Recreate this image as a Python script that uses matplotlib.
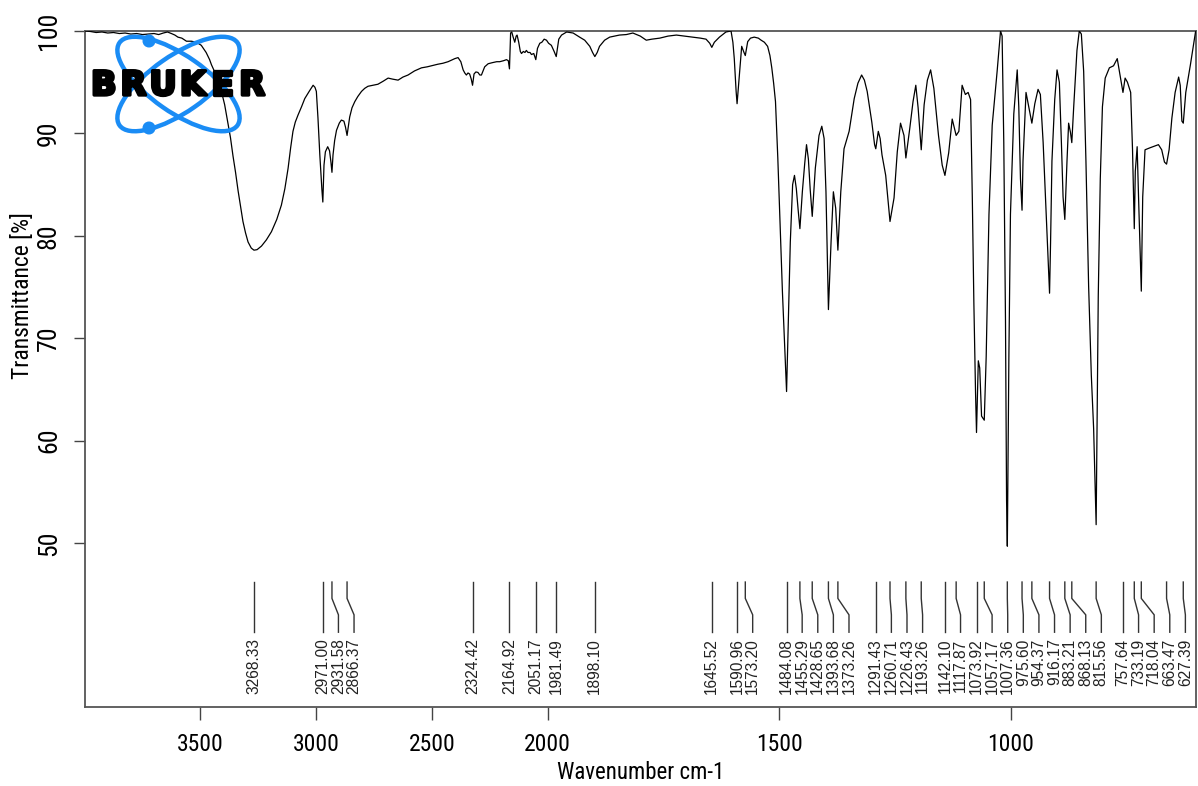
import numpy as np
import matplotlib
matplotlib.use("Agg")
import matplotlib.pyplot as plt
from matplotlib.patches import Ellipse, Circle
import matplotlib.patheffects as pe

# ---- spectrum (wavenumber in cm-1, transmittance in %) ----
wavenumber = [
    4000, 3975, 3950, 3925, 3900, 3875, 3850, 3825, 3800, 3775, 3750, 3725,
    3700, 3680, 3660, 3642, 3625, 3610, 3597, 3580, 3560, 3539, 3517, 3496,
    3475, 3460, 3452, 3438, 3425, 3409, 3395, 3381, 3370, 3359, 3348, 3337,
    3326, 3316, 3305, 3294, 3280, 3268.33, 3255, 3236, 3215, 3193, 3170, 3150,
    3135, 3121, 3110, 3100, 3090, 3078, 3063, 3049, 3030, 3013, 3005, 2999,
    2992, 2984, 2975, 2971.00, 2966, 2960, 2950, 2942, 2936, 2931.58, 2927,
    2920, 2912, 2900, 2891, 2880, 2873, 2866.37, 2860, 2855, 2845, 2833, 2820,
    2804, 2790, 2776, 2755, 2733, 2710, 2689, 2670, 2646, 2625, 2603, 2575,
    2545, 2520, 2502, 2475, 2452, 2430, 2401, 2387, 2375, 2365, 2358, 2351,
    2344, 2337, 2330, 2324.42, 2318, 2310, 2301, 2293, 2286, 2272, 2257, 2240,
    2220, 2207, 2190, 2178, 2170, 2164.92, 2160, 2155, 2149, 2142, 2136, 2132,
    2125, 2118, 2113, 2105, 2098, 2092, 2085, 2076, 2070, 2060, 2051.17, 2044,
    2034, 2025, 2015, 2005, 1998, 1992, 1986, 1981.49, 1976, 1970, 1959, 1945,
    1931, 1920, 1909, 1903, 1898.10, 1893, 1888, 1877, 1866, 1845, 1830, 1816,
    1800, 1787, 1775, 1758, 1740, 1722, 1705, 1687, 1670, 1658, 1650, 1645.52,
    1640, 1629, 1615, 1604, 1600, 1597, 1593, 1590.96, 1586, 1581, 1576,
    1573.20, 1568, 1562, 1554, 1545, 1539, 1532, 1525, 1520, 1516, 1512, 1508,
    1503, 1498, 1493, 1487, 1484.08, 1480.5, 1476, 1471, 1467, 1463, 1459,
    1455.29, 1450, 1445, 1441, 1437, 1433, 1428.65, 1422, 1414, 1408, 1403,
    1399, 1396, 1393.68, 1388, 1383, 1378, 1373.26, 1367, 1360, 1349, 1338,
    1330, 1322, 1316, 1310, 1300, 1294, 1291.43, 1286, 1282, 1278, 1270, 1265,
    1260.71, 1252, 1245, 1238, 1230.5, 1226.43, 1218, 1211, 1205, 1200,
    1193.26, 1187, 1180, 1173, 1166, 1156, 1148, 1142.10, 1134, 1126.4,
    1117.87, 1112, 1105, 1098, 1092, 1086.7, 1083, 1079.6, 1076, 1073.92, 1070,
    1067, 1063, 1057.17, 1053, 1047, 1040, 1029.4, 1022, 1018.6, 1015, 1011.3,
    1009, 1007.36, 1004, 1000.6, 993.4, 986, 982.6, 979, 975.60, 973.5, 967,
    961, 954.37, 948, 941, 936, 930, 925, 920, 916.17, 914, 911, 905, 900, 895,
    890.6, 887, 883.21, 878.5, 875, 871, 868.13, 864, 857, 852, 847.5, 842.5,
    837.6, 831.8, 826, 821, 815.56, 813, 811, 806.6, 802, 796, 787, 778, 770,
    763, 757.64, 753, 748, 741, 737, 733.19, 731, 727, 724, 718.04, 715, 710,
    699, 681, 674, 668, 663.47, 658, 652, 645, 637.4, 634, 630.4, 627.39, 622,
    612, 601, 600,
]
transmittance = [
    100.0, 99.95, 99.85, 99.9, 99.8, 99.85, 99.75, 99.8, 99.7, 99.75, 99.65, 99.7,
    99.75, 99.65, 99.8, 99.9, 99.75, 99.6, 99.4, 99.3, 99.0, 99.0, 98.9, 98.6,
    97.9, 97.2, 96.7, 96.0, 95.2, 94.1, 92.8, 91.0, 89.6, 87.8, 86.2, 84.4,
    82.8, 81.4, 80.3, 79.4, 78.8, 78.6, 78.65, 79.0, 79.6, 80.4, 81.6, 83.0,
    84.6, 86.6, 88.6, 90.2, 91.1, 91.8, 92.6, 93.4, 94.1, 94.7, 94.5, 94.1,
    91.5, 87.9, 84.5, 83.3, 86.9, 88.2, 88.7, 88.3, 87.2, 86.2, 87.9,
    89.3, 90.3, 91.0, 91.3, 91.2, 90.6, 89.8, 90.8, 91.6, 92.5, 93.1, 93.6,
    94.1, 94.4, 94.6, 94.7, 94.8, 95.1, 95.4, 95.3, 95.2, 95.5, 95.7, 96.1,
    96.4, 96.5, 96.6, 96.75, 96.85, 97.0, 97.3, 97.4, 97.0, 96.2, 95.9, 95.7,
    95.9, 95.8, 95.3, 94.7, 95.8, 96.0, 95.95, 95.7, 95.7, 96.5, 96.8, 96.9,
    97.0, 97.0, 97.1, 97.2, 97.1, 96.3, 99.8, 99.9, 99.4, 98.9, 99.5, 99.6,
    98.9, 98.0, 97.8, 98.0, 97.9, 98.1, 97.9, 97.9, 97.7, 97.8, 97.2, 98.3,
    98.8, 98.9, 99.2, 99.1, 98.8, 98.6, 98.0, 97.5, 99.2, 99.6, 99.9, 99.8,
    99.4, 99.1, 98.5, 97.9, 97.5, 97.9, 98.5, 99.1, 99.4, 99.6, 99.65, 99.8,
    99.5, 99.1, 99.2, 99.3, 99.5, 99.6, 99.5, 99.4, 99.3, 99.2, 98.8, 98.4,
    98.9, 99.4, 99.9, 100.0, 98.9, 97.3, 94.1, 92.9, 95.7, 98.5, 97.9,
    97.6, 98.96, 99.3, 99.4, 99.3, 99.1, 98.9, 98.5, 97.6, 96.4, 94.9, 93.1,
    87.6, 81.1, 74.5, 68.0, 64.8, 71.3, 79.4, 85.0, 85.9, 84.6, 82.5,
    80.7, 84.3, 87.0, 88.9, 87.5, 84.5, 81.9, 86.6, 89.8, 90.7, 89.5,
    84.3, 78.0, 72.8, 79.4, 84.3, 82.7, 78.6, 84.3, 88.5, 90.2, 93.4,
    94.9, 95.7, 95.2, 94.1, 91.1, 88.9, 88.5, 90.2, 89.5, 87.9, 85.9, 83.5,
    81.4, 83.7, 88.2, 91.0, 89.8, 87.6, 90.5, 93.1, 94.7, 92.5,
    88.4, 92.8, 95.2, 96.2, 94.4, 89.8, 86.9, 85.9, 88.1, 91.4,
    89.8, 90.2, 94.7, 93.8, 94.0, 93.3, 83.8, 73.4, 64.7, 60.8, 67.8,
    67.1, 62.4, 62.0, 68.2, 82.1, 90.8, 96.05, 100.0, 99.5, 89.1, 71.6,
    54.2, 49.7, 68.2, 82.1, 91.9, 96.2, 92.6, 85.6, 82.5, 87.3, 94.0,
    92.6, 91.0, 92.9, 94.3, 93.8, 89.1, 83.8, 78.6, 74.4, 79.3, 87.3, 93.3, 96.2, 95.0,
    89.1, 83.8, 81.6, 87.3, 91.0, 90.1, 89.1, 92.6, 98.1, 100.0, 99.7, 96.05,
    87.3, 75.1, 66.4, 61.2, 51.8, 64.7, 74.1, 85.6, 92.6, 95.4, 96.4, 96.6, 97.3,
    95.4, 94.0, 95.4, 95.0, 94.0, 88.4, 80.7, 86.3, 88.7, 83.8, 74.6, 83.8, 88.4,
    88.6, 88.9, 88.4, 87.2, 87.0, 88.4, 91.5, 94.0, 95.5, 94.7, 91.2, 91.0, 94.0,
    96.7, 99.9, 100.0,
]

# ---- picked peaks ----
peaks = [
    3268.33, 2971.00, 2931.58, 2866.37, 2324.42, 2164.92, 2051.17, 1981.49,
    1898.10, 1645.52, 1590.96, 1573.20, 1484.08, 1455.29, 1428.65, 1393.68,
    1373.26, 1291.43, 1260.71, 1226.43, 1193.26, 1142.10, 1117.87, 1073.92,
    1057.17, 1007.36, 975.60, 954.37, 916.17, 883.21, 868.13, 815.56, 757.64,
    733.19, 718.04, 663.47, 627.39,
]

x_ticks = [3500, 3000, 2500, 2000, 1500, 1000]
y_ticks = [50, 60, 70, 80, 90, 100]

# ---- wavenumber axis: the range above 2000 cm-1 is drawn at half scale ----
BREAK = 2000.0


def fwd(x):
    x = np.asarray(x, dtype=float)
    return np.where(x > BREAK, BREAK + (x - BREAK) / 2.0, x)


def inv(u):
    u = np.asarray(u, dtype=float)
    return np.where(u > BREAK, BREAK + (u - BREAK) * 2.0, u)


TICK_FONT = ["Roboto Condensed", "Liberation Sans Narrow", "Liberation Sans",
             "DejaVu Sans"]
LABEL_FONT = ["Liberation Sans", "DejaVu Sans"]

fig = plt.figure(figsize=(11.98, 7.86), dpi=100)
ax = fig.add_axes([0.0706, 0.1005, 0.9277, 0.8601])
ax.set_xscale("function", functions=(fwd, inv))
ax.set_xlim(4000, 600)
ax.set_ylim(34, 100)

ax.plot(wavenumber, transmittance, color="black", lw=0.9, zorder=3)

# peak markers: leader lines fanned out so the labels never overlap
gap = 33.7  # minimum label spacing in scale units
order = sorted(peaks, reverse=True)
label_u = []
for u in fwd(order):
    label_u.append(u if not label_u else min(u, label_u[-1] - gap))
label_x = inv(label_u)
for p, lx in zip(order, label_x):
    ax.plot([p, p, lx, lx], [46.2, 44.6, 43.0, 41.3], color="#333333", lw=1.0,
            zorder=2)
    ax.text(lx, 40.7, f"{p:.2f}", rotation=90, ha="center", va="top",
            fontsize=11.2, family=LABEL_FONT, color="#222222")

# axes frame and ticks
for side in ("top", "right", "bottom", "left"):
    ax.spines[side].set_color("#555555")
    ax.spines[side].set_linewidth(1.3)
ax.set_xticks(x_ticks)
ax.set_xticklabels([str(v) for v in x_ticks])
ax.set_yticks(y_ticks)
ax.set_yticklabels([str(v) for v in y_ticks])
ax.xaxis.set_minor_locator(matplotlib.ticker.NullLocator())
ax.tick_params(axis="x", direction="out", length=9, width=1.0, pad=10,
               colors="#444444", labelcolor="black", labelsize=17)
ax.tick_params(axis="y", direction="out", length=8, width=1.0, pad=9,
               colors="#444444", labelcolor="black", labelsize=18.5,
               labelrotation=90)
for lbl in ax.get_xticklabels() + ax.get_yticklabels():
    lbl.set_family(TICK_FONT)
for lbl in ax.get_yticklabels():
    lbl.set_va("center")

ax.set_xlabel("Wavenumber cm-1", fontsize=16.5, family=TICK_FONT)
ax.xaxis.set_label_coords(0.5, -0.0976)
ax.xaxis.label.set_va("center")
ax.set_ylabel("Transmittance [%]", fontsize=17, family=TICK_FONT)
ax.yaxis.set_label_coords(-0.0563, 0.609)
ax.yaxis.label.set_va("center")

# ---- logo overlay in pixel coordinates ----
lax = fig.add_axes([0, 0, 1, 1], zorder=5)
lax.set_xlim(0, 1198)
lax.set_ylim(786, 0)
lax.axis("off")
blue = "#1a8cf5"
for ang in (35, -35):
    lax.add_patch(Ellipse((178.5, 84), 144, 56, angle=ang, fill=False,
                          edgecolor=blue, lw=3.2))
for cy in (41, 128):
    lax.add_patch(Circle((149, cy), 5.8, color=blue))
letters = "BRUKER"
step = (267 - 89) / len(letters)
for i, ch in enumerate(letters):
    lax.text(89 + step * (i + 0.5), 85.5, ch, ha="center", va="center",
             fontsize=24, fontweight="bold", family="DejaVu Sans",
             color="black",
             path_effects=[pe.withStroke(linewidth=2.4, foreground="black")])

fig.savefig("out.png", dpi=100)
